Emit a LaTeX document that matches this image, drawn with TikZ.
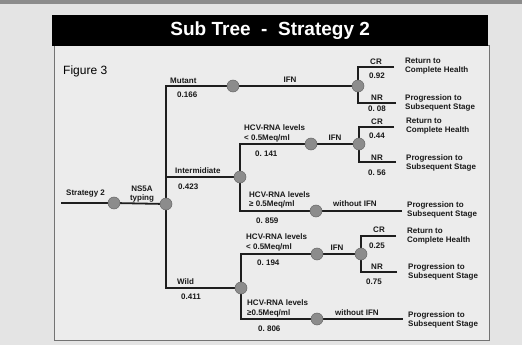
\documentclass[tikz,border=0pt]{standalone}
\usepackage{fontspec}
\setmainfont{Liberation Sans}
\definecolor{bgc}{RGB}{228,228,228}
\definecolor{boxc}{RGB}{236,236,236}
\definecolor{chancec}{RGB}{140,140,140}
\definecolor{linec}{RGB}{30,30,30}
\pgfdeclarelayer{back}
\pgfdeclarelayer{lines}
\pgfsetlayers{back,lines,main}
\begin{document}
\begin{tikzpicture}[x=1pt,y=-1pt,
  chance/.style={circle,fill=chancec,draw=black!60,line width=0.5pt,minimum size=12pt,inner sep=0pt},
  branch/.style={draw=linec,line width=1.8pt},
  lbl/.style={font=\bfseries\fontsize{8}{8.5}\selectfont,inner sep=0pt,text=black!90},
  lblw/.style={lbl,anchor=west},
  term/.style={lbl,anchor=west,align=left}]
\useasboundingbox (0,0) rectangle (522,345);
\begin{pgfonlayer}{back}
  \fill[bgc] (0,0) rectangle (522,345);
  \fill[black!45] (0,0) rectangle (522,4);
  \fill[boxc] (54,46) rectangle (489,340);
  \draw[black!55,line width=1pt] (54,46) rectangle (489,340);
\end{pgfonlayer}
% title
\node[fill=black,minimum width=436pt,minimum height=31pt,inner sep=0pt,anchor=north west] (bar) at (52,15) {};
\node[text=white,font=\bfseries\fontsize{19}{20}\selectfont] (title) at (bar.center) {Sub Tree\ \ -\ \ Strategy 2};
\node[font=\fontsize{12}{13}\selectfont,anchor=west,inner sep=0pt] (fig) at (63,71) {Figure 3};

% decision / chance nodes
\coordinate (s0) at (61,203);
\node[chance] (c0) at (114,203) {};
\node[chance] (ns) at (166,204) {};
\node[chance] (m) at (233,86) {};
\node[chance] (mi) at (358,86) {};
\coordinate (mcr) at (394,67);
\coordinate (mnr) at (396,103);
\node[chance] (i) at (240,177) {};
\node[chance] (i1) at (311,144) {};
\node[chance] (i1f) at (359,144) {};
\coordinate (icr) at (394,127);
\coordinate (inr) at (396,162);
\node[chance] (i2) at (316,211) {};
\coordinate (iend) at (402,211);
\node[chance] (w) at (241,288) {};
\node[chance] (w1) at (317,254) {};
\node[chance] (w1f) at (361,254) {};
\coordinate (wcr) at (396,236);
\coordinate (wnr) at (397,272);
\node[chance] (w2) at (317,319) {};
\coordinate (wend) at (403,319);

\begin{pgfonlayer}{lines}
  \draw[branch] (s0) -- (c0.center) -- (ns.center);
  \draw[branch] (m.center) -| (ns.center);
  \draw[branch] (i.center) -| (ns.center);
  \draw[branch] (w.center) -| (ns.center);
  \draw[branch] (m.center) -- (mi.center);
  \draw[branch] (mcr) -| (mi.center);
  \draw[branch] (mnr) -| (mi.center);
  \draw[branch] (i1.center) -| (i.center);
  \draw[branch] (i2.center) -| (i.center);
  \draw[branch] (i1.center) -- (i1f.center);
  \draw[branch] (icr) -| (i1f.center);
  \draw[branch] (inr) -| (i1f.center);
  \draw[branch] (i2.center) -- (iend);
  \draw[branch] (w1.center) -| (w.center);
  \draw[branch] (w2.center) -| (w.center);
  \draw[branch] (w1.center) -- (w1f.center);
  \draw[branch] (wcr) -| (w1f.center);
  \draw[branch] (wnr) -| (w1f.center);
  \draw[branch] (w2.center) -- (wend);
\end{pgfonlayer}

% labels: root
\node[lblw] (ls) at (66,194) {Strategy 2};
\node[lbl,align=center] (lns) at (142,194) {NS5A\\[1pt]typing};
% mutant
\node[lblw] (lm) at (170,81) {Mutant};
\node[lblw] (pm) at (177,95) {0.166};
\node[lbl] (lmifn) at (290,80) {IFN};
\node[lbl] (lmcr) at (376,62) {CR};
\node[lbl] (pmcr) at (377,76) {0.92};
\node[lbl] (lmnr) at (377,98) {NR};
\node[lbl] (pmnr) at (377,109) {0.\ 08};
\node[term] (tm1) at (405,66) {Return to\\Complete Health};
\node[term] (tm2) at (405,103) {Progression to\\Subsequent Stage};
% intermediate
\node[lblw] (li) at (175,171) {Intermidiate};
\node[lblw] (pi) at (178,187) {0.423};
\node[lblw] (li1a) at (244,128) {HCV-RNA levels};
\node[lblw] (li1b) at (244,138) {< 0.5Meq/ml};
\node[lblw] (pi1) at (255,154) {0.\ 141};
\node[lbl] (lifn) at (335,138) {IFN};
\node[lbl] (licr) at (377,122) {CR};
\node[lbl] (picr) at (377,136) {0.44};
\node[lbl] (linr) at (377,158) {NR};
\node[lbl] (pinr) at (377,173) {0.\ 56};
\node[term] (ti1) at (406,126) {Return to\\Complete Health};
\node[term] (ti2) at (406,163) {Progression to\\Subsequent Stage};
\node[lblw] (li2a) at (249,195) {HCV-RNA levels};
\node[lblw] (li2b) at (249,204) {≥ 0.5Meq/ml};
\node[lblw] (pi2) at (256,221) {0.\ 859};
\node[lblw] (lino) at (333,204) {without IFN};
\node[term] (ti3) at (407,210) {Progression to\\Subsequent Stage};
% wild
\node[lblw] (lw) at (177,282) {Wild};
\node[lblw] (pw) at (181,297) {0.411};
\node[lblw] (lw1a) at (246,237) {HCV-RNA levels};
\node[lblw] (lw1b) at (246,247) {< 0.5Meq/ml};
\node[lblw] (pw1) at (257,263) {0.\ 194};
\node[lbl] (lwifn) at (337,248) {IFN};
\node[lbl] (lwcr) at (379,230) {CR};
\node[lbl] (pwcr) at (377,246) {0.25};
\node[lbl] (lwnr) at (377,267) {NR};
\node[lbl] (pwnr) at (374,282) {0.75};
\node[term] (tw1) at (407,236) {Return to\\Complete Health};
\node[term] (tw2) at (408,272) {Progression to\\Subsequent Stage};
\node[lblw] (lw2a) at (247,303) {HCV-RNA levels};
\node[lblw] (lw2b) at (247,313) {≥0.5Meq/ml};
\node[lblw] (pw2) at (258,329) {0.\ 806};
\node[lblw] (lwno) at (335,313) {without IFN};
\node[term] (tw3) at (408,320) {Progression to\\Subsequent Stage};
\end{tikzpicture}
\end{document}
